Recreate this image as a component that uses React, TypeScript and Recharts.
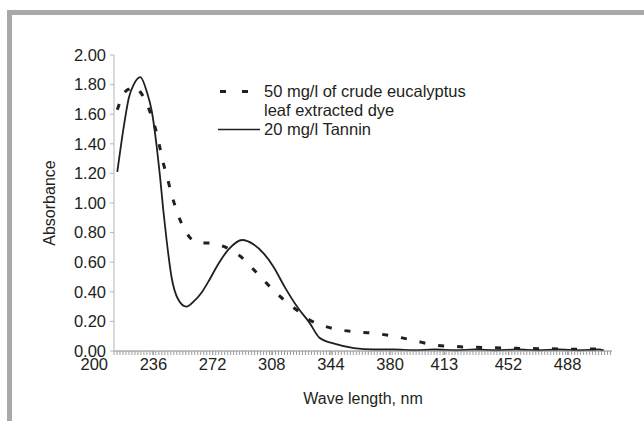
import { LineChart, Line, XAxis, YAxis, Legend } from "recharts";

// wavelength (nm) of each sample
const WAVELENGTHS = [
  214, 218, 221, 224, 228, 232, 235, 238, 240, 242, 244, 247, 251, 256, 261, 265,
  270, 275, 282, 290, 297, 303, 309, 316, 324, 331, 337, 346, 358, 370, 382, 395,
  407, 420, 432, 444, 457, 470, 482, 495, 507, 510,
];
// 50 mg/l crude eucalyptus leaf extracted dye
const DYE = [
  1.63, 1.74, 1.77, 1.79, 1.75, 1.67, 1.58, 1.47, 1.37, 1.27, 1.19, 1.06, 0.92, 0.8, 0.74, 0.73,
  0.73, 0.72, 0.69, 0.63, 0.55, 0.48, 0.41, 0.34, 0.27, 0.21, 0.18, 0.15, 0.13, 0.12, 0.1, 0.07,
  0.04, 0.03, 0.025, 0.022, 0.018, 0.016, 0.014, 0.012, 0.014, 0.012,
];
// 20 mg/l Tannin
const TANNIN = [
  1.21, 1.52, 1.71, 1.8, 1.85, 1.75, 1.62, 1.38, 1.18, 0.95, 0.75, 0.5, 0.35, 0.3, 0.34, 0.39,
  0.48, 0.58, 0.69, 0.75, 0.72, 0.66, 0.57, 0.43, 0.29, 0.19, 0.09, 0.05, 0.02, 0.01, 0.01, 0.005,
  0.01, 0.005, 0.01, 0.005, 0.01, 0.005, 0.01, 0.005, 0.01, 0.005,
];

const SERIES_NAMES = ["50 mg/l of crude eucalyptus leaf extracted dye", "20 mg/l Tannin"];
const WAVE_LABELS = [200, 236, 272, 308, 344, 380, 413, 452, 488];
const Y_TICKS = [0, 0.2, 0.4, 0.6, 0.8, 1.0, 1.2, 1.4, 1.6, 1.8, 2.0];

const X_MIN = 212;
const X_MAX = 515;
const MINOR_STEP = 1.82;

const minorTicks = Array.from(
  { length: Math.floor((X_MAX - X_MIN) / MINOR_STEP) + 1 },
  (_, i) => +(X_MIN + i * MINOR_STEP).toFixed(2)
);
const xTicks = [...new Set([...WAVE_LABELS, ...minorTicks])].sort((a, b) => a - b);

const data = WAVELENGTHS.map((wl, i) => ({ wl, dye: DYE[i], tannin: TANNIN[i] }));

const FONT = "'Liberation Sans', Arial, sans-serif";
const INK = "#231f20";
const FS = 16.5;

function WaveTick(props: any) {
  const { x, y, payload } = props;
  const v = payload.value;
  return (
    <g>
      {v >= X_MIN && <line x1={x} x2={x} y1={y} y2={y + 4} stroke="#9a9a9a" strokeWidth={1} />}
      {WAVE_LABELS.includes(v) && (
        <text x={x} y={y + 19} textAnchor="middle" fill={INK} fontSize={FS} fontFamily={FONT}>
          {v}
        </text>
      )}
    </g>
  );
}

function renderLegend() {
  return (
    <div style={{ position: "relative", fontFamily: FONT, fontSize: FS, color: INK, lineHeight: "19px" }}>
      <svg width={50} height={60} style={{ position: "absolute", left: 0, top: 0 }}>
        <line x1={5} x2={33} y1={9.5} y2={9.5} stroke={INK} strokeWidth={3} strokeDasharray="6 16" />
        <line x1={3} x2={45} y1={47.5} y2={47.5} stroke={INK} strokeWidth={1.5} />
      </svg>
      <div style={{ marginLeft: 49, width: 212 }}>
        {SERIES_NAMES.map((name) => (
          <div key={name}>{name}</div>
        ))}
      </div>
    </div>
  );
}

export default function App() {
  return (
    <div style={{ position: "absolute", left: 0, top: 0, width: 644, height: 425, background: "#fff" }}>
      <div
        style={{
          position: "absolute",
          left: 7,
          top: 10,
          width: 637,
          height: 411,
          borderLeft: "5px solid #a7a9ac",
          borderTop: "5px solid #a7a9ac",
          boxSizing: "border-box",
        }}
      />
      <div style={{ position: "absolute", left: 0, top: 0 }}>
        <LineChart width={644} height={425} data={data} margin={{ top: 55, right: 32, bottom: 10, left: 40 }}>
          <XAxis
            dataKey="wl"
            type="number"
            domain={[X_MIN, X_MAX]}
            ticks={xTicks}
            interval={0}
            tick={WaveTick}
            tickLine={false}
            tickSize={0}
            tickMargin={0}
            axisLine={{ stroke: "#8a8a8a" }}
            height={64}
            label={{ value: "Wave length, nm", position: "insideBottom", offset: 11, fill: INK, fontSize: 16, fontFamily: FONT }}
          />
          <YAxis
            type="number"
            domain={[0, 2]}
            ticks={Y_TICKS}
            interval={0}
            tickFormatter={(v: number) => v.toFixed(2)}
            tick={{ fill: INK, fontSize: FS, fontFamily: FONT }}
            tickLine={{ stroke: "#b5b5b5" }}
            axisLine={{ stroke: "#b5b5b5" }}
            tickSize={4}
            tickMargin={4}
            width={74}
            label={{
              value: "Absorbance",
              angle: -90,
              position: "insideLeft",
              offset: 9,
              textAnchor: "middle",
              fill: INK,
              fontSize: 16,
              fontFamily: FONT,
            }}
          />
          <Legend
            content={renderLegend}
            layout="horizontal"
            verticalAlign="middle"
            align="center"
            wrapperStyle={{ left: 215, top: 82, width: "auto" }}
          />
          <Line
            dataKey="dye"
            name={SERIES_NAMES[0]}
            type="monotone"
            stroke={INK}
            strokeWidth={3}
            strokeDasharray="6 13"
            dot={false}
            isAnimationActive={false}
          />
          <Line
            dataKey="tannin"
            name={SERIES_NAMES[1]}
            type="monotone"
            stroke={INK}
            strokeWidth={1.8}
            dot={false}
            isAnimationActive={false}
          />
        </LineChart>
      </div>
    </div>
  );
}
